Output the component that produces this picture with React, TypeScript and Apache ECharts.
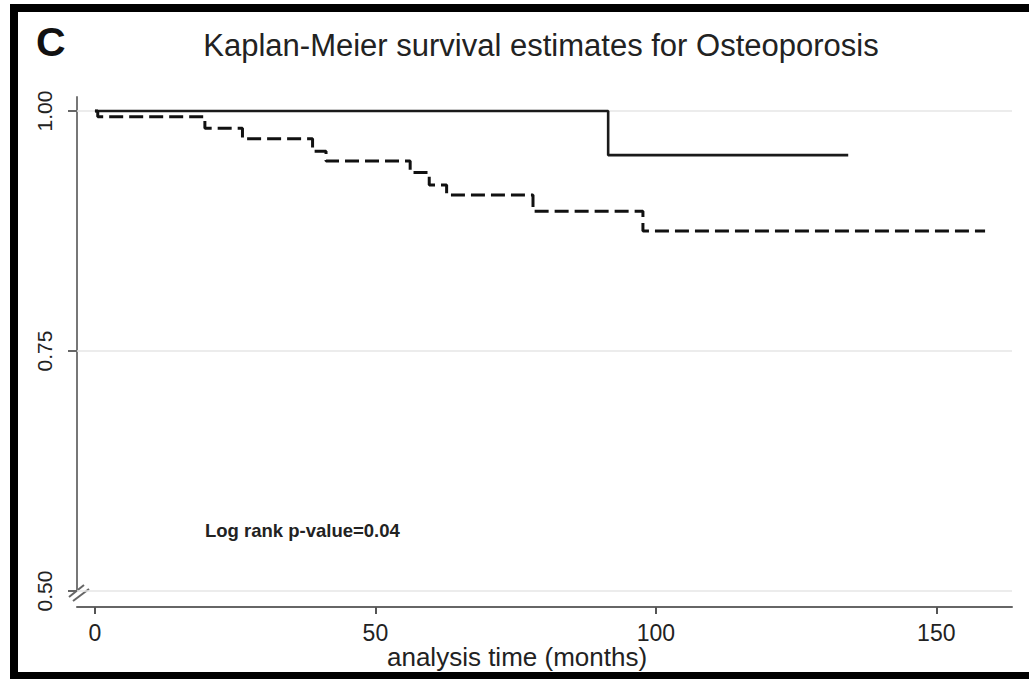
import React, { useEffect, useRef } from "react";
import * as echarts from "echarts";

// Tick values
const xTicks = [0, 50, 100, 150];
const yTicks = [0.5, 0.75, 1.0];

// Kaplan-Meier step data: [time (months), survival estimate after event]
const groupSolid: [number, number][] = [
  [0, 1.0],
  [91.5, 0.954],
  [134.3, 0.954],
];

const groupDashed: [number, number][] = [
  [0, 1.0],
  [0.5, 0.994],
  [19.6, 0.982],
  [26.3, 0.971],
  [38.8, 0.958],
  [41.2, 0.948],
  [56.2, 0.936],
  [59.6, 0.923],
  [62.7, 0.9125],
  [78.1, 0.8955],
  [97.7, 0.875],
  [158.7, 0.875],
];

const gridValues = [1.0, 0.75, 0.5];

const titleText = "Kaplan-Meier survival estimates for Osteoporosis";
const panelLetter = "C";
const annotation = "Log rank p-value=0.04";
const xAxisTitle = "analysis time (months)";

const FONT = "'Liberation Sans', Arial, Helvetica, sans-serif";

export default function App() {
  const ref = useRef<HTMLDivElement>(null);

  useEffect(() => {
    if (!ref.current) return;
    const chart = echarts.init(ref.current, undefined, { renderer: "svg" });
    const option: any = {
      animation: false,
      backgroundColor: "#ffffff",
      grid: { left: 77, right: 17, top: 97, bottom: 88, containLabel: false },
      xAxis: {
        type: "value",
        min: -3.2,
        max: 163.5,
        offset: 16,
        axisLine: { show: true, onZero: false, lineStyle: { color: "#666", width: 2 } },
        axisTick: {
          show: true,
          customValues: xTicks,
          length: 7,
          lineStyle: { color: "#555", width: 2 },
        },
        axisLabel: {
          customValues: xTicks,
          margin: 14,
          fontSize: 23,
          color: "#222",
          fontFamily: FONT,
        },
        splitLine: { show: false },
      },
      yAxis: {
        type: "value",
        min: 0.5,
        max: 1.0146,
        axisLine: { show: true, onZero: false, lineStyle: { color: "#777", width: 2 } },
        axisTick: {
          show: true,
          customValues: yTicks,
          length: 9,
          lineStyle: { color: "#666", width: 2 },
        },
        axisLabel: {
          customValues: yTicks,
          rotate: 90,
          margin: 22,
          fontSize: 21,
          color: "#222",
          fontFamily: FONT,
          formatter: (v: number) => v.toFixed(2),
        },
        splitLine: { show: false },
      },
      series: [
        {
          type: "line",
          data: [],
          z: 1,
          silent: true,
          markLine: {
            z: 1,
            silent: true,
            symbol: "none",
            label: { show: false },
            lineStyle: { color: "#e6e6e6", width: 1.5, type: "solid" },
            data: gridValues.map((v) => ({ yAxis: v })),
          },
        },
        {
          name: "solid",
          type: "line",
          step: "end",
          symbol: "none",
          data: groupSolid,
          z: 3,
          lineStyle: { color: "#1a1a1a", width: 2.6, type: "solid" },
        },
        {
          name: "dashed",
          type: "line",
          step: "end",
          symbol: "none",
          data: groupDashed,
          z: 3,
          lineStyle: { color: "#111", width: 3, type: [14, 6] },
        },
      ],
      graphic: [
        { type: "rect", shape: { x: 10, y: 4, width: 1019, height: 8 }, style: { fill: "#000" } },
        { type: "rect", shape: { x: 10, y: 4, width: 8, height: 675 }, style: { fill: "#000" } },
        { type: "rect", shape: { x: 10, y: 672, width: 1019, height: 7 }, style: { fill: "#000" } },
        {
          type: "text",
          x: 36,
          y: 42,
          style: {
            text: panelLetter,
            fontSize: 41,
            fontWeight: "bold",
            fontFamily: FONT,
            fill: "#111",
            textAlign: "left",
            textVerticalAlign: "middle",
          },
        },
        {
          type: "text",
          x: 541,
          y: 45,
          style: {
            text: titleText,
            fontSize: 31,
            fontFamily: FONT,
            fill: "#222",
            textAlign: "center",
            textVerticalAlign: "middle",
          },
        },
        {
          type: "text",
          x: 205,
          y: 530,
          style: {
            text: annotation,
            fontSize: 18.5,
            fontWeight: "bold",
            fontFamily: FONT,
            fill: "#222",
            textAlign: "left",
            textVerticalAlign: "middle",
          },
        },
        {
          type: "text",
          x: 517,
          y: 657,
          style: {
            text: xAxisTitle,
            fontSize: 26,
            fontFamily: FONT,
            fill: "#222",
            textAlign: "center",
            textVerticalAlign: "middle",
          },
        },
        {
          type: "line",
          shape: { x1: 69, y1: 597, x2: 84, y2: 585 },
          style: { stroke: "#666", lineWidth: 2 },
        },
        {
          type: "line",
          shape: { x1: 73, y1: 601, x2: 89, y2: 589 },
          style: { stroke: "#666", lineWidth: 2 },
        },
      ],
    };
    chart.setOption(option);
    return () => chart.dispose();
  }, []);

  return (
    <div
      ref={ref}
      style={{ position: "absolute", left: 0, top: 0, width: 1029, height: 679 }}
    />
  );
}
